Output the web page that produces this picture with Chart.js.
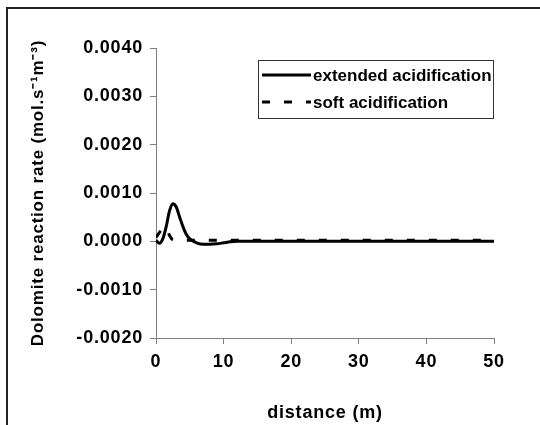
<!DOCTYPE html>
<html>
<head>
<meta charset="utf-8">
<script src="https://cdn.jsdelivr.net/npm/chart.js@4.4.1/dist/chart.umd.min.js"></script>
<style>
  html, body { margin: 0; padding: 0; background: #fff; }
  #wrap { width: 540px; height: 425px; position: relative; }
</style>
</head>
<body>
<div id="wrap"><canvas id="chart" width="540" height="425"></canvas></div>
<script>
// data
const distance = [0, 0.5, 1, 1.5, 2, 2.5, 3, 3.5, 4, 4.5, 5, 6, 7, 8, 9, 10, 11, 12, 15, 20, 30, 40, 50];
const extended = [0.00002, -0.00004, 0.00005, 0.0003, 0.00063, 0.00078, 0.00071, 0.0005, 0.0003, 0.00014, 0.00005, -0.00003, -0.00006, -0.00006, -0.00005, -0.00003, -0.00001, 0, 0, 0, 0, 0, 0];
const soft = [0.00008, 0.00018, 0.00027, 0.0003, 0.00012, 0.00003, 0.00002, 0.00002, 0.00002, 0.00002, 0.00002, 0.00002, 0.00002, 0.00002, 0.00002, 0.00002, 0.00002, 0.00002, 0.00002, 0.00002, 0.00002, 0.00002, 0.00002];
const seriesNames = ['extended acidification', 'soft acidification'];
const xTicks = [0, 10, 20, 30, 40, 50];
const yTicks = [-0.002, -0.001, 0, 0.001, 0.002, 0.003, 0.004];

const font = '"Liberation Sans", Arial, sans-serif';
const toPts = (xs, ys) => xs.map((x, i) => ({ x: x, y: ys[i] }));

// frame lines + boxed legend like the original
const decor = {
  id: 'decor',
  beforeDraw(chart) {
    const c = chart.ctx;
    c.save();
    c.fillStyle = '#fff';
    c.fillRect(0, 0, chart.width, chart.height);
    c.strokeStyle = '#222';
    c.lineWidth = 2;
    c.beginPath();
    c.moveTo(7, 425);
    c.lineTo(7, 8);
    c.lineTo(540, 8);
    c.stroke();
    c.restore();
    // the original axis text is set a little wide
    c.letterSpacing = '0.8px';
  },
  afterDraw(chart) {
    const c = chart.ctx;
    c.letterSpacing = '0px';
    c.save();
    c.fillStyle = '#fff';
    c.fillRect(258, 60, 236, 59);
    c.strokeStyle = '#333';
    c.lineWidth = 1;
    c.strokeRect(258.5, 60.5, 235, 58);
    c.font = 'bold 17px ' + font;
    c.fillStyle = '#000';
    c.textBaseline = 'middle';
    const rows = [75, 102];
    chart.data.datasets.forEach((ds, i) => {
      c.strokeStyle = '#000';
      c.lineWidth = 3;
      c.setLineDash(ds.borderDash || []);
      c.beginPath();
      c.moveTo(262, rows[i]);
      c.lineTo(311, rows[i]);
      c.stroke();
      c.setLineDash([]);
      c.fillText(ds.label, 313, rows[i] + 1);
    });
    c.restore();
  }
};

new Chart(document.getElementById('chart'), {
  type: 'line',
  data: {
    datasets: [{
      label: seriesNames[0],
      data: toPts(distance, extended),
      borderColor: '#000',
      borderWidth: 3,
      pointRadius: 0,
      cubicInterpolationMode: 'monotone'
    }, {
      label: seriesNames[1],
      data: toPts(distance, soft),
      borderColor: '#000',
      borderWidth: 3,
      borderDash: [8, 14],
      pointRadius: 0,
      cubicInterpolationMode: 'monotone'
    }]
  },
  options: {
    responsive: false,
    animation: false,
    devicePixelRatio: 1,
    layout: { padding: { top: 48, right: 46, left: 0, bottom: 0 } },
    plugins: {
      legend: { display: false },
      tooltip: { enabled: false }
    },
    scales: {
      x: {
        type: 'linear',
        min: 0,
        max: 50,
        afterBuildTicks: s => { s.ticks = xTicks.map(v => ({ value: v })); },
        afterFit: s => { s.height = 87; },
        border: { color: '#808080', width: 1 },
        grid: { drawOnChartArea: false, color: '#808080', tickLength: 6 },
        ticks: { color: '#000', font: { family: font, size: 18, weight: 'bold' }, padding: 7 },
        title: { display: true, text: 'distance (m)', color: '#000', font: { family: font, size: 18, weight: 'bold' }, padding: { top: 0, bottom: 1 } }
      },
      y: {
        min: -0.002,
        max: 0.004,
        afterBuildTicks: s => { s.ticks = yTicks.map(v => ({ value: v })); },
        afterFit: s => { s.width = 156; },
        border: { color: '#808080', width: 1 },
        grid: { drawOnChartArea: false, color: '#808080', tickLength: 6 },
        ticks: {
          color: '#000',
          font: { family: font, size: 18, weight: 'bold' },
          padding: 7,
          callback: v => v.toFixed(4)
        },
        title: { display: true, text: 'Dolomite reaction rate (mol.s\u207B\u00B9m\u207B\u00B3)', color: '#000', font: { family: font, size: 17, weight: 'bold' }, padding: { top: 28, bottom: 0 } }
      }
    }
  },
  plugins: [decor]
});
</script>
</body>
</html>
